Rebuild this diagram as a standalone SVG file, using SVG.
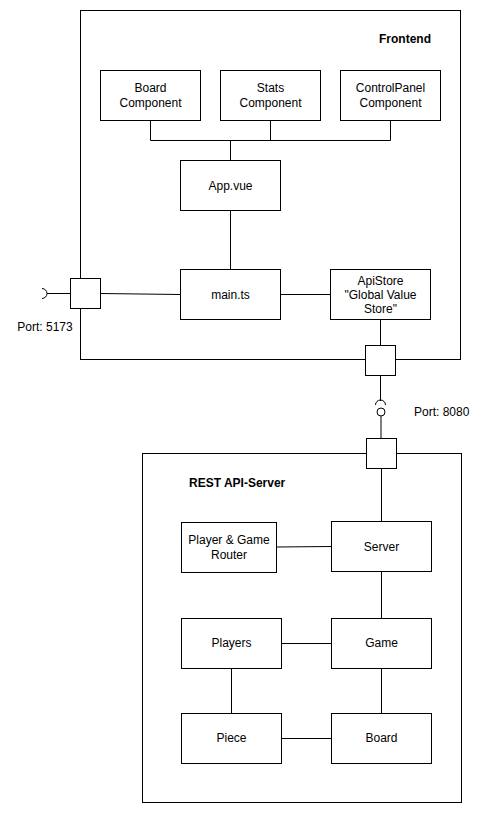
<svg xmlns="http://www.w3.org/2000/svg" width="487" height="814" viewBox="0 0 487 814">
<style>
.box{fill:#fff;stroke:#000;stroke-width:1}
.frame{fill:none;stroke:#000;stroke-width:1}
.ln{fill:none;stroke:#000;stroke-width:1}
text{font-family:"Liberation Sans",Arial,sans-serif;font-size:12px;fill:#000}
.c{text-anchor:middle}
.b{font-weight:bold}
</style>
<rect width="487" height="814" fill="#fff"/>
<g id="frontend">
<rect class="frame" x="80.5" y="10.5" width="380" height="349"/>
<text class="b" x="431" y="43" text-anchor="end">Frontend</text>
</g>
<g id="rest-api-server">
<rect class="frame" x="142.5" y="453.5" width="319" height="349"/>
<text class="b" x="189" y="487">REST API-Server</text>
</g>
<g id="connectors">
<path class="ln" d="M150.5 120.5V140.5H390.5V120.5M270.5 120.5V140.5M230.5 140.5V160.5"/>
<path class="ln" d="M230.5 210.5V269.5"/>
<path class="ln" d="M280.5 294.5H330.5"/>
<path class="ln" d="M100.5 293.5L180.5 294.5"/>
<path class="ln" d="M47 293.5H70.5"/>
<path class="ln" d="M42 288.5A5 5 0 0 1 42 298.5"/>
<path class="ln" d="M380.5 319.5V345.5"/>
<path class="ln" d="M380.5 375.5V401"/>
<path class="ln" d="M375.5 405A5 5 0 0 1 385.5 405"/>
<circle class="ln" cx="381" cy="412" r="4"/>
<path class="ln" d="M381 416V438.5"/>
<path class="ln" d="M381.5 468.5V521.5"/>
<path class="ln" d="M276.5 547L331.5 546.5"/>
<path class="ln" d="M381.5 571.5V618.5"/>
<path class="ln" d="M281.5 643.5H331.5"/>
<path class="ln" d="M231.5 668.5V713.5"/>
<path class="ln" d="M381.5 668.5V713.5"/>
<path class="ln" d="M281.5 738.5H331.5"/>
</g>
<g id="port-5173">
<rect class="box" x="70.5" y="278.5" width="30" height="30"/>
<text class="c" x="45" y="331">Port: 5173</text>
</g>
<g id="port-frontend-bottom">
<rect class="box" x="365.5" y="345.5" width="30" height="30"/>
</g>
<g id="port-8080">
<rect class="box" x="366.5" y="438.5" width="30" height="30"/>
<text x="414" y="416">Port: 8080</text>
</g>
<g id="board-component">
<rect class="box" x="100.5" y="70.5" width="100" height="50"/>
<text class="c" x="150.5" y="92">Board</text>
<text class="c" x="150.5" y="107">Component</text>
</g>
<g id="stats-component">
<rect class="box" x="220.5" y="70.5" width="100" height="50"/>
<text class="c" x="270.5" y="92">Stats</text>
<text class="c" x="270.5" y="107">Component</text>
</g>
<g id="controlpanel-component">
<rect class="box" x="340.5" y="70.5" width="100" height="50"/>
<text class="c" x="390.5" y="92">ControlPanel</text>
<text class="c" x="390.5" y="107">Component</text>
</g>
<g id="app-vue">
<rect class="box" x="180.5" y="160.5" width="100" height="50"/>
<text class="c" x="230.5" y="190">App.vue</text>
</g>
<g id="main-ts">
<rect class="box" x="180.5" y="269.5" width="100" height="50"/>
<text class="c" x="230.5" y="299">main.ts</text>
</g>
<g id="apistore">
<rect class="box" x="330.5" y="269.5" width="100" height="50"/>
<text class="c" x="380.5" y="285">ApiStore</text>
<text class="c" x="380.5" y="299">"Global Value</text>
<text class="c" x="380.5" y="313">Store"</text>
</g>
<g id="router">
<rect class="box" x="181.5" y="522.5" width="95" height="50"/>
<text class="c" x="229" y="544">Player &amp; Game</text>
<text class="c" x="229" y="559">Router</text>
</g>
<g id="server">
<rect class="box" x="331.5" y="521.5" width="100" height="50"/>
<text class="c" x="381.5" y="551">Server</text>
</g>
<g id="players">
<rect class="box" x="181.5" y="618.5" width="100" height="50"/>
<text class="c" x="231.5" y="647">Players</text>
</g>
<g id="game">
<rect class="box" x="331.5" y="618.5" width="100" height="50"/>
<text class="c" x="381.5" y="647">Game</text>
</g>
<g id="piece">
<rect class="box" x="181.5" y="713.5" width="100" height="50"/>
<text class="c" x="231.5" y="742">Piece</text>
</g>
<g id="board">
<rect class="box" x="331.5" y="713.5" width="100" height="50"/>
<text class="c" x="381.5" y="742">Board</text>
</g>
</svg>
